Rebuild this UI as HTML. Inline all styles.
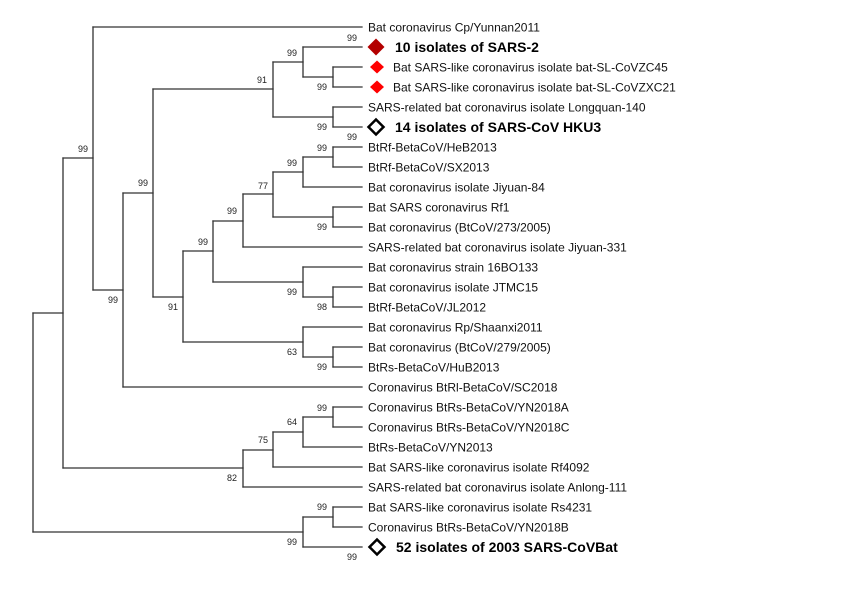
<!DOCTYPE html>
<html>
<head>
<meta charset="utf-8">
<style>
  html, body { margin: 0; padding: 0; background: #fff; }
  body { width: 865px; height: 589px; overflow: hidden; }
  svg { display: block; }
  .l { stroke: #333; stroke-width: 1.3; fill: none; stroke-linecap: square; }
  .t { font-family: "Liberation Sans", Arial, sans-serif; font-size: 12px; fill: #111; }
  .b { font-family: "Liberation Sans", Arial, sans-serif; font-size: 14px; font-weight: bold; fill: #000; }
  .n { font-family: "Liberation Sans", Arial, sans-serif; font-size: 9px; fill: #222; text-anchor: middle; }
</style>
</head>
<body>
<svg width="865" height="589" viewBox="0 0 865 589" xmlns="http://www.w3.org/2000/svg">
  <rect x="0" y="0" width="865" height="589" fill="#fff"/>
  <g class="l">
    <!-- root -->
    <line x1="33" y1="313" x2="33" y2="532"/>
    <line x1="33" y1="313" x2="63" y2="313"/>
    <line x1="33" y1="532" x2="303" y2="532"/>
    <!-- node 63 -->
    <line x1="63" y1="158" x2="63" y2="468"/>
    <line x1="63" y1="158" x2="93" y2="158"/>
    <line x1="63" y1="468" x2="243" y2="468"/>
    <!-- node 93 -->
    <line x1="93" y1="27" x2="93" y2="290"/>
    <line x1="93" y1="27" x2="362" y2="27"/>
    <line x1="93" y1="290" x2="123" y2="290"/>
    <!-- node 123 -->
    <line x1="123" y1="193" x2="123" y2="387"/>
    <line x1="123" y1="193" x2="153" y2="193"/>
    <line x1="123" y1="387" x2="362" y2="387"/>
    <!-- node 153 -->
    <line x1="153" y1="89" x2="153" y2="297"/>
    <line x1="153" y1="89" x2="273" y2="89"/>
    <line x1="153" y1="297" x2="183" y2="297"/>
    <!-- node 273 top -->
    <line x1="273" y1="62" x2="273" y2="117"/>
    <line x1="273" y1="62" x2="303" y2="62"/>
    <line x1="273" y1="117" x2="333" y2="117"/>
    <!-- node 303 SARS-2 -->
    <line x1="303" y1="47" x2="303" y2="77"/>
    <line x1="303" y1="47" x2="362" y2="47"/>
    <line x1="303" y1="77" x2="333" y2="77"/>
    <line x1="333" y1="67" x2="333" y2="87"/>
    <line x1="333" y1="67" x2="362" y2="67"/>
    <line x1="333" y1="87" x2="362" y2="87"/>
    <!-- Longquan/HKU3 -->
    <line x1="333" y1="107" x2="333" y2="127"/>
    <line x1="333" y1="107" x2="362" y2="107"/>
    <line x1="333" y1="127" x2="362" y2="127"/>
    <!-- node 183 -->
    <line x1="183" y1="251" x2="183" y2="342"/>
    <line x1="183" y1="251" x2="213" y2="251"/>
    <line x1="183" y1="342" x2="303" y2="342"/>
    <!-- node 213 -->
    <line x1="213" y1="221" x2="213" y2="282"/>
    <line x1="213" y1="221" x2="243" y2="221"/>
    <line x1="213" y1="282" x2="303" y2="282"/>
    <!-- node 243 -->
    <line x1="243" y1="194" x2="243" y2="247"/>
    <line x1="243" y1="194" x2="273" y2="194"/>
    <line x1="243" y1="247" x2="362" y2="247"/>
    <!-- node 273 -->
    <line x1="273" y1="172" x2="273" y2="217"/>
    <line x1="273" y1="172" x2="303" y2="172"/>
    <line x1="273" y1="217" x2="333" y2="217"/>
    <!-- node 303 -->
    <line x1="303" y1="157" x2="303" y2="187"/>
    <line x1="303" y1="157" x2="333" y2="157"/>
    <line x1="303" y1="187" x2="362" y2="187"/>
    <line x1="333" y1="147" x2="333" y2="167"/>
    <line x1="333" y1="147" x2="362" y2="147"/>
    <line x1="333" y1="167" x2="362" y2="167"/>
    <line x1="333" y1="207" x2="333" y2="227"/>
    <line x1="333" y1="207" x2="362" y2="207"/>
    <line x1="333" y1="227" x2="362" y2="227"/>
    <!-- 16BO133 group -->
    <line x1="303" y1="267" x2="303" y2="297"/>
    <line x1="303" y1="267" x2="362" y2="267"/>
    <line x1="303" y1="297" x2="333" y2="297"/>
    <line x1="333" y1="287" x2="333" y2="307"/>
    <line x1="333" y1="287" x2="362" y2="287"/>
    <line x1="333" y1="307" x2="362" y2="307"/>
    <!-- Rp group -->
    <line x1="303" y1="327" x2="303" y2="357"/>
    <line x1="303" y1="327" x2="362" y2="327"/>
    <line x1="303" y1="357" x2="333" y2="357"/>
    <line x1="333" y1="347" x2="333" y2="367"/>
    <line x1="333" y1="347" x2="362" y2="347"/>
    <line x1="333" y1="367" x2="362" y2="367"/>
    <!-- YN clade -->
    <line x1="243" y1="450" x2="243" y2="487"/>
    <line x1="243" y1="450" x2="273" y2="450"/>
    <line x1="243" y1="487" x2="362" y2="487"/>
    <line x1="273" y1="432" x2="273" y2="467"/>
    <line x1="273" y1="432" x2="303" y2="432"/>
    <line x1="273" y1="467" x2="362" y2="467"/>
    <line x1="303" y1="417" x2="303" y2="447"/>
    <line x1="303" y1="417" x2="333" y2="417"/>
    <line x1="303" y1="447" x2="362" y2="447"/>
    <line x1="333" y1="407" x2="333" y2="427"/>
    <line x1="333" y1="407" x2="362" y2="407"/>
    <line x1="333" y1="427" x2="362" y2="427"/>
    <!-- bottom clade -->
    <line x1="303" y1="517" x2="303" y2="547"/>
    <line x1="303" y1="517" x2="333" y2="517"/>
    <line x1="303" y1="547" x2="362" y2="547"/>
    <line x1="333" y1="507" x2="333" y2="527"/>
    <line x1="333" y1="507" x2="362" y2="507"/>
    <line x1="333" y1="527" x2="362" y2="527"/>
  </g>

  <!-- markers -->
  <polygon points="376,38.5 384.5,47 376,55.5 367.5,47" fill="#b30000"/>
  <polygon points="377,60.5 384,67 377,73.5 370,67" fill="#ff0000"/>
  <polygon points="377,80.5 384,87 377,93.5 370,87" fill="#ff0000"/>
  <polygon points="376,119.5 383.5,127 376,134.5 368.5,127" fill="none" stroke="#000" stroke-width="2.5"/>
  <polygon points="377,539.5 384.5,547 377,554.5 369.5,547" fill="none" stroke="#000" stroke-width="2.5"/>

  <!-- leaf labels -->
  <text class="t" x="368" y="31.5">Bat coronavirus Cp/Yunnan2011</text>
  <text class="b" x="395" y="52">10 isolates of SARS-2</text>
  <text class="t" x="393" y="71.5">Bat SARS-like coronavirus isolate bat-SL-CoVZC45</text>
  <text class="t" x="393" y="91.5">Bat SARS-like coronavirus isolate bat-SL-CoVZXC21</text>
  <text class="t" x="368" y="111.5">SARS-related bat coronavirus isolate Longquan-140</text>
  <text class="b" x="395" y="132">14 isolates of SARS-CoV HKU3</text>
  <text class="t" x="368" y="151.5">BtRf-BetaCoV/HeB2013</text>
  <text class="t" x="368" y="171.5">BtRf-BetaCoV/SX2013</text>
  <text class="t" x="368" y="191.5">Bat coronavirus isolate Jiyuan-84</text>
  <text class="t" x="368" y="211.5">Bat SARS coronavirus Rf1</text>
  <text class="t" x="368" y="231.5">Bat coronavirus (BtCoV/273/2005)</text>
  <text class="t" x="368" y="251.5">SARS-related bat coronavirus isolate Jiyuan-331</text>
  <text class="t" x="368" y="271.5">Bat coronavirus strain 16BO133</text>
  <text class="t" x="368" y="291.5">Bat coronavirus isolate JTMC15</text>
  <text class="t" x="368" y="311.5">BtRf-BetaCoV/JL2012</text>
  <text class="t" x="368" y="331.5">Bat coronavirus Rp/Shaanxi2011</text>
  <text class="t" x="368" y="351.5">Bat coronavirus (BtCoV/279/2005)</text>
  <text class="t" x="368" y="371.5">BtRs-BetaCoV/HuB2013</text>
  <text class="t" x="368" y="391.5">Coronavirus BtRl-BetaCoV/SC2018</text>
  <text class="t" x="368" y="411.5">Coronavirus BtRs-BetaCoV/YN2018A</text>
  <text class="t" x="368" y="431.5">Coronavirus BtRs-BetaCoV/YN2018C</text>
  <text class="t" x="368" y="451.5">BtRs-BetaCoV/YN2013</text>
  <text class="t" x="368" y="471.5">Bat SARS-like coronavirus isolate Rf4092</text>
  <text class="t" x="368" y="491.5">SARS-related bat coronavirus isolate Anlong-111</text>
  <text class="t" x="368" y="511.5">Bat SARS-like coronavirus isolate Rs4231</text>
  <text class="t" x="368" y="531.5">Coronavirus BtRs-BetaCoV/YN2018B</text>
  <text class="b" x="396" y="552">52 isolates of 2003 SARS-CoVBat</text>

  <!-- bootstrap values -->
  <text class="n" x="352" y="41">99</text>
  <text class="n" x="292" y="56">99</text>
  <text class="n" x="262" y="83">91</text>
  <text class="n" x="322" y="90">99</text>
  <text class="n" x="322" y="130">99</text>
  <text class="n" x="352" y="140">99</text>
  <text class="n" x="83" y="152">99</text>
  <text class="n" x="322" y="151">99</text>
  <text class="n" x="292" y="166">99</text>
  <text class="n" x="143" y="186">99</text>
  <text class="n" x="263" y="189">77</text>
  <text class="n" x="232" y="214">99</text>
  <text class="n" x="322" y="230">99</text>
  <text class="n" x="203" y="245">99</text>
  <text class="n" x="292" y="295">99</text>
  <text class="n" x="113" y="303">99</text>
  <text class="n" x="173" y="310">91</text>
  <text class="n" x="322" y="310">98</text>
  <text class="n" x="292" y="355">63</text>
  <text class="n" x="322" y="370">99</text>
  <text class="n" x="322" y="411">99</text>
  <text class="n" x="292" y="425">64</text>
  <text class="n" x="263" y="443">75</text>
  <text class="n" x="232" y="481">82</text>
  <text class="n" x="322" y="510">99</text>
  <text class="n" x="292" y="545">99</text>
  <text class="n" x="352" y="560">99</text>
</svg>
</body>
</html>
